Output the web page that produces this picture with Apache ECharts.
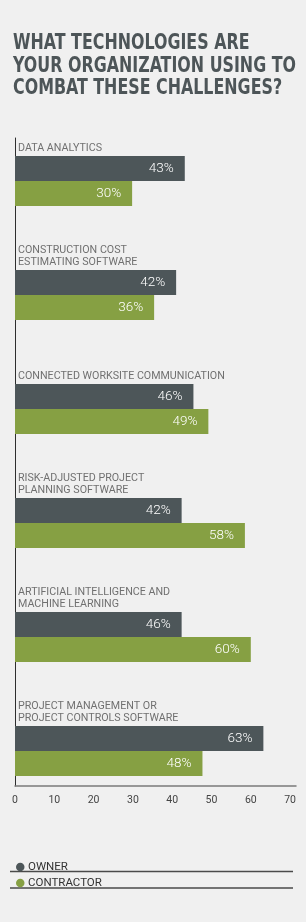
<!DOCTYPE html>
<html>
<head>
<meta charset="utf-8">
<script src="https://cdn.jsdelivr.net/npm/echarts@6/dist/echarts.min.js"></script>
<style>
html,body{margin:0;padding:0;background:#f0f0f0;}
#c{width:306px;height:922px;}
</style>
</head>
<body>
<div id="c"></div>
<script>
const titleLines = ['WHAT TECHNOLOGIES ARE', 'YOUR ORGANIZATION USING TO', 'COMBAT THESE CHALLENGES?'];
const categories = [
  'DATA ANALYTICS',
  'CONSTRUCTION COST\nESTIMATING SOFTWARE',
  'CONNECTED WORKSITE COMMUNICATION',
  'RISK-ADJUSTED PROJECT\nPLANNING SOFTWARE',
  'ARTIFICIAL INTELLIGENCE AND\nMACHINE LEARNING',
  'PROJECT MANAGEMENT OR\nPROJECT CONTROLS SOFTWARE'
];
const seriesNames = ['OWNER', 'CONTRACTOR'];
const ownerValues = [43.2, 41, 45.4, 42.4, 42.4, 63.2];
const contractorValues = [29.8, 35.4, 49.2, 58.5, 60, 47.7];
const ownerLabels = ['43%', '42%', '46%', '42%', '46%', '63%'];
const contractorLabels = ['30%', '36%', '49%', '58%', '60%', '48%'];
const xTicks = [0, 10, 20, 30, 40, 50, 60, 70];

// title: condensed bold, horizontally fitted to the reference width
const titleFont = 'bold 20.5px "DejaVu Sans Condensed", "DejaVu Sans", sans-serif';
const mctx = document.createElement('canvas').getContext('2d');
mctx.font = titleFont;
const widest = Math.max(...titleLines.map(t => mctx.measureText(t).width));
const titleScale = 283 / widest;

const chart = echarts.init(document.getElementById('c'), null, {renderer: 'canvas'});
const valueLabel = (labels) => ({
  show: true,
  position: 'insideRight',
  distance: 11,
  color: '#ffffff',
  fontFamily: 'Roboto',
  fontWeight: 300,
  fontSize: 13.5,
  formatter: (p) => labels[p.dataIndex]
});
chart.setOption({
  backgroundColor: '#f0f0f0',
  animation: false,
  legend: {
    orient: 'vertical',
    left: 11,
    top: 855,
    itemGap: 2,
    itemWidth: 8.5,
    itemHeight: 8.5,
    icon: 'circle',
    data: seriesNames,
    textStyle: {fontFamily: 'Roboto', fontSize: 11.5, lineHeight: 14, color: '#333333', padding: [0,0,0,-1.5]}
  },
  graphic: [
    {
      type: 'text', x: 13, y: 33, scaleX: titleScale,
      style: {
        text: titleLines.join('\n'), font: titleFont, lineHeight: 22.3,
        fill: '#4d5558', textVerticalAlign: 'top', textAlign: 'left'
      }
    },
    {type: 'rect', shape: {x: 10, y: 870.8, width: 283, height: 1.5}, style: {fill: '#4a4a4a'}},
    {type: 'rect', shape: {x: 10, y: 887.3, width: 283, height: 1.5}, style: {fill: '#4a4a4a'}}
  ],
  grid: [
    {left: 15, right: 10, top: 138, height: 648},
    {left: 15, right: 10, top: 124, height: 684}
  ],
  xAxis: [
    {
      gridIndex: 0, type: 'value', min: 0, max: 71.5, interval: 10,
      axisLine: {show: true, lineStyle: {color: '#7a7a7a', width: 1.5}},
      axisTick: {show: false}, splitLine: {show: false},
      axisLabel: {
        margin: 9, color: '#444444', fontFamily: 'Roboto', fontSize: 10.5,
        showMaxLabel: false,
        formatter: (v) => xTicks.includes(v) ? String(v) : ''
      }
    },
    {gridIndex: 1, type: 'value', min: 0, max: 71.5, show: false}
  ],
  yAxis: [
    {
      gridIndex: 0, type: 'category', data: categories, inverse: true, offset: 2,
      axisLine: {show: true, lineStyle: {color: '#2e2e2e', width: 1}},
      axisTick: {show: false}, axisLabel: {show: false}, splitLine: {show: false}
    },
    {
      gridIndex: 1, type: 'category', data: categories, inverse: true,
      axisLine: {show: false}, axisTick: {show: false}, splitLine: {show: false},
      axisLabel: {
        inside: true, margin: 3, align: 'left', verticalAlign: 'bottom',
        color: '#707070', fontFamily: 'Roboto', fontSize: 10.7, lineHeight: 12.5,
        padding: [0, 0, 26, 0]
      }
    }
  ],
  series: [
    {
      name: seriesNames[0], type: 'bar', xAxisIndex: 1, yAxisIndex: 1,
      data: ownerValues, barWidth: 25, barGap: '0%',
      itemStyle: {color: '#4d5659'},
      label: valueLabel(ownerLabels)
    },
    {
      name: seriesNames[1], type: 'bar', xAxisIndex: 1, yAxisIndex: 1,
      data: contractorValues, barWidth: 25, barGap: '0%',
      itemStyle: {color: '#86a043'},
      label: valueLabel(contractorLabels)
    }
  ]
});
</script>
</body>
</html>
